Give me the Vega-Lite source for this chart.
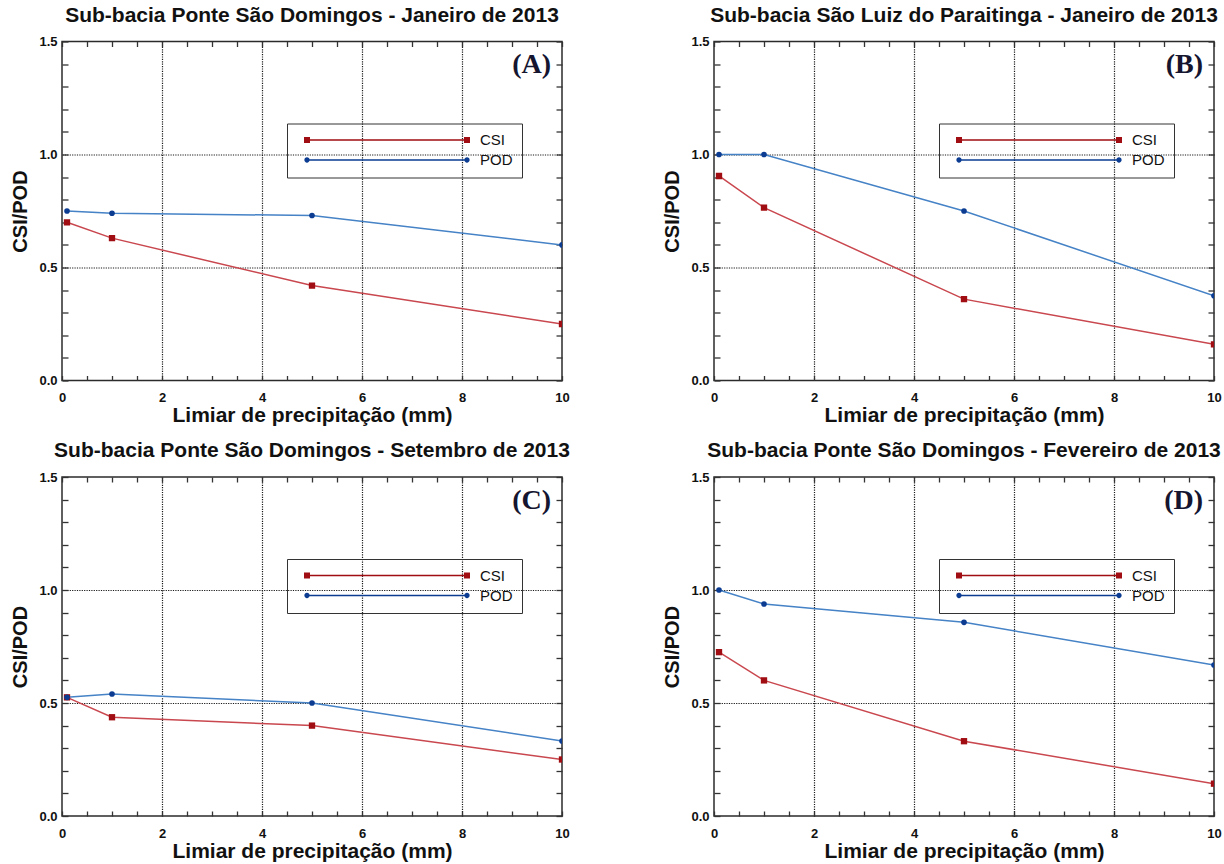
{
  "$schema": "https://vega.github.io/schema/vega-lite/v6.json",
  "background": "white",
  "padding": {"left": 10, "top": 3.5, "right": 0, "bottom": 0},
  "columns": 2,
  "spacing": {"row": 12.5, "column": 91},
  "config": {
    "font": "Liberation Sans",
    "view": {"stroke": "#2b2b2b", "strokeWidth": 1.5},
    "axis": {"labelFont": "Liberation Sans", "labelFontSize": 13, "labelFontWeight": "bold", "labelColor": "#111111", "titleFont": "Liberation Sans", "titleFontSize": 21, "titleFontWeight": "bold", "titleColor": "#111111", "tickColor": "#333333", "tickWidth": 1.3, "domain": false, "labelFlush": false, "labelOverlap": false},
    "axisLeft": {"titleFontSize": 20},
    "title": {"font": "Liberation Sans", "fontSize": 21, "fontWeight": "bold", "color": "#111111", "anchor": "middle", "frame": "group", "offset": 10}
  },
  "resolve": {
    "scale": {"color": "independent", "shape": "independent"},
    "legend": {"color": "independent", "shape": "independent"}
  },
  "datasets": {
    "A": [
      {"x": 0.1, "series": "CSI", "value": 0.70}, {"x": 1, "series": "CSI", "value": 0.63}, {"x": 5, "series": "CSI", "value": 0.42}, {"x": 10, "series": "CSI", "value": 0.25},
      {"x": 0.1, "series": "POD", "value": 0.75}, {"x": 1, "series": "POD", "value": 0.74}, {"x": 5, "series": "POD", "value": 0.73}, {"x": 10, "series": "POD", "value": 0.60}
    ],
    "B": [
      {"x": 0.1, "series": "CSI", "value": 0.905}, {"x": 1, "series": "CSI", "value": 0.765}, {"x": 5, "series": "CSI", "value": 0.36}, {"x": 10, "series": "CSI", "value": 0.16},
      {"x": 0.1, "series": "POD", "value": 1.0}, {"x": 1, "series": "POD", "value": 1.0}, {"x": 5, "series": "POD", "value": 0.75}, {"x": 10, "series": "POD", "value": 0.375}
    ],
    "C": [
      {"x": 0.1, "series": "CSI", "value": 0.525}, {"x": 1, "series": "CSI", "value": 0.437}, {"x": 5, "series": "CSI", "value": 0.40}, {"x": 10, "series": "CSI", "value": 0.25},
      {"x": 0.1, "series": "POD", "value": 0.525}, {"x": 1, "series": "POD", "value": 0.54}, {"x": 5, "series": "POD", "value": 0.50}, {"x": 10, "series": "POD", "value": 0.332}
    ],
    "D": [
      {"x": 0.1, "series": "CSI", "value": 0.725}, {"x": 1, "series": "CSI", "value": 0.60}, {"x": 5, "series": "CSI", "value": 0.331}, {"x": 10, "series": "CSI", "value": 0.143},
      {"x": 0.1, "series": "POD", "value": 1.0}, {"x": 1, "series": "POD", "value": 0.938}, {"x": 5, "series": "POD", "value": 0.857}, {"x": 10, "series": "POD", "value": 0.668}
    ]
  },
  "concat": [
    {
      "title": "Sub-bacia Ponte São Domingos - Janeiro de 2013",
      "width": 500, "height": 339,
      "data": {"name": "A"},
      "resolve": {"axis": {"x": "independent", "y": "independent"}},
      "layer": [
        {"transform": [{"filter": "datum.series === 'CSI'"}],
         "mark": {"type": "line", "strokeWidth": 1.5, "clip": true, "color": "#c9474e"},
         "encoding": {
           "x": {"field": "x", "type": "quantitative", "scale": {"domain": [0, 10], "nice": false, "zero": false},
                 "axis": {"orient": "bottom", "offset": -5, "values": [0,0.5,1,1.5,2,2.5,3,3.5,4,4.5,5,5.5,6,6.5,7,7.5,8,8.5,9,9.5,10], "labelExpr": "datum.value % 2 === 0 ? format(datum.value, 'd') : ''", "tickSize": 5, "grid": true, "gridColor": "#1a1a1a", "gridDash": [1.2, 1.2], "gridWidth": 1.2, "gridOpacity": {"condition": {"test": "datum.value % 2 === 0 && datum.value > 0 && datum.value < 10", "value": 1}, "value": 0}, "labelPadding": 11, "title": "Limiar de precipitação (mm)", "titlePadding": 0}},
           "y": {"field": "value", "type": "quantitative", "scale": {"domain": [0, 1.5], "nice": false, "zero": false},
                 "axis": {"orient": "left", "offset": -6, "values": [0,0.1,0.2,0.3,0.4,0.5,0.6,0.7,0.8,0.9,1,1.1,1.2,1.3,1.4,1.5], "labelExpr": "abs(datum.value*2 - round(datum.value*2)) < 0.001 ? format(datum.value, '.1f') : ''", "tickSize": 6, "grid": true, "gridColor": "#1a1a1a", "gridDash": [1.2, 1.2], "gridWidth": 1.2, "gridOpacity": {"condition": {"test": "abs(datum.value - 0.5) < 0.001 || abs(datum.value - 1) < 0.001", "value": 1}, "value": 0}, "labelPadding": 5, "title": "CSI/POD", "titlePadding": 8}}
         }},
        {"transform": [{"filter": "datum.series === 'POD'"}],
         "mark": {"type": "line", "strokeWidth": 1.5, "clip": true, "color": "#4582c6"},
         "encoding": {
           "x": {"field": "x", "type": "quantitative", "axis": null},
           "y": {"field": "value", "type": "quantitative", "axis": null}
         }},
        {"transform": [{"filter": "datum.series === 'CSI'"}],
         "mark": {"type": "point", "shape": "square", "filled": true, "size": 40, "opacity": 1, "color": "#a00d12", "clip": true},
         "encoding": {
           "x": {"field": "x", "type": "quantitative", "axis": {"orient": "top", "offset": -5, "values": [0,0.5,1,1.5,2,2.5,3,3.5,4,4.5,5,5.5,6,6.5,7,7.5,8,8.5,9,9.5,10], "labels": false, "title": null, "tickSize": 5, "grid": false}},
           "y": {"field": "value", "type": "quantitative", "axis": {"orient": "right", "offset": -6, "values": [0,0.1,0.2,0.3,0.4,0.5,0.6,0.7,0.8,0.9,1,1.1,1.2,1.3,1.4,1.5], "labels": false, "title": null, "tickSize": 6, "grid": false}}
         }},
        {"transform": [{"filter": "datum.series === 'POD'"}],
         "mark": {"type": "point", "shape": "circle", "filled": true, "size": 32, "opacity": 1, "color": "#0b3c92", "clip": true},
         "encoding": {
           "x": {"field": "x", "type": "quantitative", "axis": null},
           "y": {"field": "value", "type": "quantitative", "axis": null}
         }},
        {"data": {"values": []},
         "mark": {"type": "point", "filled": true, "opacity": 1, "size": 25600},
         "encoding": {
           "color": {"field": "series", "type": "nominal", "scale": {"domain": ["CSI", "POD"], "range": ["#a00d12", "#0b3c92"]},
                     "legend": {"orient": "none", "legendX": 225, "legendY": 82, "title": null, "direction": "vertical", "strokeColor": "#333333", "padding": 9, "symbolSize": 25600, "symbolStrokeWidth": 0, "symbolOffset": 11, "labelFontSize": 15, "labelFont": "Liberation Sans", "labelColor": "#111111", "labelOffset": 13, "rowPadding": 4, "clipHeight": 15, "symbolOpacity": 1}},
           "shape": {"field": "series", "type": "nominal", "scale": {"domain": ["CSI", "POD"], "range": ["M-1,-0.009H1V0.009H-1Z M-1.0375,-0.0375H-0.9625V0.0375H-1.0375Z M0.9625,-0.0375H1.0375V0.0375H0.9625Z", "M-1,-0.009H1V0.009H-1Z M-0.967,0A0.033,0.033 0 1,1 -1.033,0A0.033,0.033 0 1,1 -0.967,0Z M1.033,0A0.033,0.033 0 1,1 0.967,0A0.033,0.033 0 1,1 1.033,0Z"]},
                     "legend": {"orient": "none", "legendX": 225, "legendY": 82, "title": null, "direction": "vertical", "strokeColor": "#333333", "padding": 9, "symbolSize": 25600, "symbolStrokeWidth": 0, "symbolOffset": 11, "labelFontSize": 15, "labelFont": "Liberation Sans", "labelColor": "#111111", "labelOffset": 13, "rowPadding": 4, "clipHeight": 15, "symbolOpacity": 1}}
         }},
        {"data": {"values": [{"label": "(A)"}]},
         "mark": {"type": "text", "font": "Liberation Serif", "fontWeight": "bold", "fontSize": 28, "align": "right", "baseline": "middle", "dx": -11, "dy": 23.5, "color": "#151530"},
         "encoding": {
           "x": {"datum": 10, "type": "quantitative", "axis": null},
           "y": {"datum": 1.5, "type": "quantitative", "axis": null},
           "text": {"field": "label", "type": "nominal"}
         }}
      ]
    },
    {
      "title": "Sub-bacia São Luiz do Paraitinga - Janeiro de 2013",
      "width": 500, "height": 339,
      "data": {"name": "B"},
      "resolve": {"axis": {"x": "independent", "y": "independent"}},
      "layer": [
        {"transform": [{"filter": "datum.series === 'CSI'"}],
         "mark": {"type": "line", "strokeWidth": 1.5, "clip": true, "color": "#c9474e"},
         "encoding": {
           "x": {"field": "x", "type": "quantitative", "scale": {"domain": [0, 10], "nice": false, "zero": false},
                 "axis": {"orient": "bottom", "offset": -5, "values": [0,0.5,1,1.5,2,2.5,3,3.5,4,4.5,5,5.5,6,6.5,7,7.5,8,8.5,9,9.5,10], "labelExpr": "datum.value % 2 === 0 ? format(datum.value, 'd') : ''", "tickSize": 5, "grid": true, "gridColor": "#1a1a1a", "gridDash": [1.2, 1.2], "gridWidth": 1.2, "gridOpacity": {"condition": {"test": "datum.value % 2 === 0 && datum.value > 0 && datum.value < 10", "value": 1}, "value": 0}, "labelPadding": 11, "title": "Limiar de precipitação (mm)", "titlePadding": 0}},
           "y": {"field": "value", "type": "quantitative", "scale": {"domain": [0, 1.5], "nice": false, "zero": false},
                 "axis": {"orient": "left", "offset": -6, "values": [0,0.1,0.2,0.3,0.4,0.5,0.6,0.7,0.8,0.9,1,1.1,1.2,1.3,1.4,1.5], "labelExpr": "abs(datum.value*2 - round(datum.value*2)) < 0.001 ? format(datum.value, '.1f') : ''", "tickSize": 6, "grid": true, "gridColor": "#1a1a1a", "gridDash": [1.2, 1.2], "gridWidth": 1.2, "gridOpacity": {"condition": {"test": "abs(datum.value - 0.5) < 0.001 || abs(datum.value - 1) < 0.001", "value": 1}, "value": 0}, "labelPadding": 5, "title": "CSI/POD", "titlePadding": 8}}
         }},
        {"transform": [{"filter": "datum.series === 'POD'"}],
         "mark": {"type": "line", "strokeWidth": 1.5, "clip": true, "color": "#4582c6"},
         "encoding": {
           "x": {"field": "x", "type": "quantitative", "axis": null},
           "y": {"field": "value", "type": "quantitative", "axis": null}
         }},
        {"transform": [{"filter": "datum.series === 'CSI'"}],
         "mark": {"type": "point", "shape": "square", "filled": true, "size": 40, "opacity": 1, "color": "#a00d12", "clip": true},
         "encoding": {
           "x": {"field": "x", "type": "quantitative", "axis": {"orient": "top", "offset": -5, "values": [0,0.5,1,1.5,2,2.5,3,3.5,4,4.5,5,5.5,6,6.5,7,7.5,8,8.5,9,9.5,10], "labels": false, "title": null, "tickSize": 5, "grid": false}},
           "y": {"field": "value", "type": "quantitative", "axis": {"orient": "right", "offset": -6, "values": [0,0.1,0.2,0.3,0.4,0.5,0.6,0.7,0.8,0.9,1,1.1,1.2,1.3,1.4,1.5], "labels": false, "title": null, "tickSize": 6, "grid": false}}
         }},
        {"transform": [{"filter": "datum.series === 'POD'"}],
         "mark": {"type": "point", "shape": "circle", "filled": true, "size": 32, "opacity": 1, "color": "#0b3c92", "clip": true},
         "encoding": {
           "x": {"field": "x", "type": "quantitative", "axis": null},
           "y": {"field": "value", "type": "quantitative", "axis": null}
         }},
        {"data": {"values": []},
         "mark": {"type": "point", "filled": true, "opacity": 1, "size": 25600},
         "encoding": {
           "color": {"field": "series", "type": "nominal", "scale": {"domain": ["CSI", "POD"], "range": ["#a00d12", "#0b3c92"]},
                     "legend": {"orient": "none", "legendX": 225, "legendY": 82, "title": null, "direction": "vertical", "strokeColor": "#333333", "padding": 9, "symbolSize": 25600, "symbolStrokeWidth": 0, "symbolOffset": 11, "labelFontSize": 15, "labelFont": "Liberation Sans", "labelColor": "#111111", "labelOffset": 13, "rowPadding": 4, "clipHeight": 15, "symbolOpacity": 1}},
           "shape": {"field": "series", "type": "nominal", "scale": {"domain": ["CSI", "POD"], "range": ["M-1,-0.009H1V0.009H-1Z M-1.0375,-0.0375H-0.9625V0.0375H-1.0375Z M0.9625,-0.0375H1.0375V0.0375H0.9625Z", "M-1,-0.009H1V0.009H-1Z M-0.967,0A0.033,0.033 0 1,1 -1.033,0A0.033,0.033 0 1,1 -0.967,0Z M1.033,0A0.033,0.033 0 1,1 0.967,0A0.033,0.033 0 1,1 1.033,0Z"]},
                     "legend": {"orient": "none", "legendX": 225, "legendY": 82, "title": null, "direction": "vertical", "strokeColor": "#333333", "padding": 9, "symbolSize": 25600, "symbolStrokeWidth": 0, "symbolOffset": 11, "labelFontSize": 15, "labelFont": "Liberation Sans", "labelColor": "#111111", "labelOffset": 13, "rowPadding": 4, "clipHeight": 15, "symbolOpacity": 1}}
         }},
        {"data": {"values": [{"label": "(B)"}]},
         "mark": {"type": "text", "font": "Liberation Serif", "fontWeight": "bold", "fontSize": 28, "align": "right", "baseline": "middle", "dx": -11, "dy": 23.5, "color": "#151530"},
         "encoding": {
           "x": {"datum": 10, "type": "quantitative", "axis": null},
           "y": {"datum": 1.5, "type": "quantitative", "axis": null},
           "text": {"field": "label", "type": "nominal"}
         }}
      ]
    },
    {
      "title": "Sub-bacia Ponte São Domingos - Setembro de 2013",
      "width": 500, "height": 339,
      "data": {"name": "C"},
      "resolve": {"axis": {"x": "independent", "y": "independent"}},
      "layer": [
        {"transform": [{"filter": "datum.series === 'CSI'"}],
         "mark": {"type": "line", "strokeWidth": 1.5, "clip": true, "color": "#c9474e"},
         "encoding": {
           "x": {"field": "x", "type": "quantitative", "scale": {"domain": [0, 10], "nice": false, "zero": false},
                 "axis": {"orient": "bottom", "offset": -5, "values": [0,0.5,1,1.5,2,2.5,3,3.5,4,4.5,5,5.5,6,6.5,7,7.5,8,8.5,9,9.5,10], "labelExpr": "datum.value % 2 === 0 ? format(datum.value, 'd') : ''", "tickSize": 5, "grid": true, "gridColor": "#1a1a1a", "gridDash": [1.2, 1.2], "gridWidth": 1.2, "gridOpacity": {"condition": {"test": "datum.value % 2 === 0 && datum.value > 0 && datum.value < 10", "value": 1}, "value": 0}, "labelPadding": 11, "title": "Limiar de precipitação (mm)", "titlePadding": 0}},
           "y": {"field": "value", "type": "quantitative", "scale": {"domain": [0, 1.5], "nice": false, "zero": false},
                 "axis": {"orient": "left", "offset": -6, "values": [0,0.1,0.2,0.3,0.4,0.5,0.6,0.7,0.8,0.9,1,1.1,1.2,1.3,1.4,1.5], "labelExpr": "abs(datum.value*2 - round(datum.value*2)) < 0.001 ? format(datum.value, '.1f') : ''", "tickSize": 6, "grid": true, "gridColor": "#1a1a1a", "gridDash": [1.2, 1.2], "gridWidth": 1.2, "gridOpacity": {"condition": {"test": "abs(datum.value - 0.5) < 0.001 || abs(datum.value - 1) < 0.001", "value": 1}, "value": 0}, "labelPadding": 5, "title": "CSI/POD", "titlePadding": 8}}
         }},
        {"transform": [{"filter": "datum.series === 'POD'"}],
         "mark": {"type": "line", "strokeWidth": 1.5, "clip": true, "color": "#4582c6"},
         "encoding": {
           "x": {"field": "x", "type": "quantitative", "axis": null},
           "y": {"field": "value", "type": "quantitative", "axis": null}
         }},
        {"transform": [{"filter": "datum.series === 'CSI'"}],
         "mark": {"type": "point", "shape": "square", "filled": true, "size": 40, "opacity": 1, "color": "#a00d12", "clip": true},
         "encoding": {
           "x": {"field": "x", "type": "quantitative", "axis": {"orient": "top", "offset": -5, "values": [0,0.5,1,1.5,2,2.5,3,3.5,4,4.5,5,5.5,6,6.5,7,7.5,8,8.5,9,9.5,10], "labels": false, "title": null, "tickSize": 5, "grid": false}},
           "y": {"field": "value", "type": "quantitative", "axis": {"orient": "right", "offset": -6, "values": [0,0.1,0.2,0.3,0.4,0.5,0.6,0.7,0.8,0.9,1,1.1,1.2,1.3,1.4,1.5], "labels": false, "title": null, "tickSize": 6, "grid": false}}
         }},
        {"transform": [{"filter": "datum.series === 'POD'"}],
         "mark": {"type": "point", "shape": "circle", "filled": true, "size": 32, "opacity": 1, "color": "#0b3c92", "clip": true},
         "encoding": {
           "x": {"field": "x", "type": "quantitative", "axis": null},
           "y": {"field": "value", "type": "quantitative", "axis": null}
         }},
        {"data": {"values": []},
         "mark": {"type": "point", "filled": true, "opacity": 1, "size": 25600},
         "encoding": {
           "color": {"field": "series", "type": "nominal", "scale": {"domain": ["CSI", "POD"], "range": ["#a00d12", "#0b3c92"]},
                     "legend": {"orient": "none", "legendX": 225, "legendY": 82, "title": null, "direction": "vertical", "strokeColor": "#333333", "padding": 9, "symbolSize": 25600, "symbolStrokeWidth": 0, "symbolOffset": 11, "labelFontSize": 15, "labelFont": "Liberation Sans", "labelColor": "#111111", "labelOffset": 13, "rowPadding": 4, "clipHeight": 15, "symbolOpacity": 1}},
           "shape": {"field": "series", "type": "nominal", "scale": {"domain": ["CSI", "POD"], "range": ["M-1,-0.009H1V0.009H-1Z M-1.0375,-0.0375H-0.9625V0.0375H-1.0375Z M0.9625,-0.0375H1.0375V0.0375H0.9625Z", "M-1,-0.009H1V0.009H-1Z M-0.967,0A0.033,0.033 0 1,1 -1.033,0A0.033,0.033 0 1,1 -0.967,0Z M1.033,0A0.033,0.033 0 1,1 0.967,0A0.033,0.033 0 1,1 1.033,0Z"]},
                     "legend": {"orient": "none", "legendX": 225, "legendY": 82, "title": null, "direction": "vertical", "strokeColor": "#333333", "padding": 9, "symbolSize": 25600, "symbolStrokeWidth": 0, "symbolOffset": 11, "labelFontSize": 15, "labelFont": "Liberation Sans", "labelColor": "#111111", "labelOffset": 13, "rowPadding": 4, "clipHeight": 15, "symbolOpacity": 1}}
         }},
        {"data": {"values": [{"label": "(C)"}]},
         "mark": {"type": "text", "font": "Liberation Serif", "fontWeight": "bold", "fontSize": 28, "align": "right", "baseline": "middle", "dx": -11, "dy": 23.5, "color": "#151530"},
         "encoding": {
           "x": {"datum": 10, "type": "quantitative", "axis": null},
           "y": {"datum": 1.5, "type": "quantitative", "axis": null},
           "text": {"field": "label", "type": "nominal"}
         }}
      ]
    },
    {
      "title": "Sub-bacia Ponte São Domingos - Fevereiro de 2013",
      "width": 500, "height": 339,
      "data": {"name": "D"},
      "resolve": {"axis": {"x": "independent", "y": "independent"}},
      "layer": [
        {"transform": [{"filter": "datum.series === 'CSI'"}],
         "mark": {"type": "line", "strokeWidth": 1.5, "clip": true, "color": "#c9474e"},
         "encoding": {
           "x": {"field": "x", "type": "quantitative", "scale": {"domain": [0, 10], "nice": false, "zero": false},
                 "axis": {"orient": "bottom", "offset": -5, "values": [0,0.5,1,1.5,2,2.5,3,3.5,4,4.5,5,5.5,6,6.5,7,7.5,8,8.5,9,9.5,10], "labelExpr": "datum.value % 2 === 0 ? format(datum.value, 'd') : ''", "tickSize": 5, "grid": true, "gridColor": "#1a1a1a", "gridDash": [1.2, 1.2], "gridWidth": 1.2, "gridOpacity": {"condition": {"test": "datum.value % 2 === 0 && datum.value > 0 && datum.value < 10", "value": 1}, "value": 0}, "labelPadding": 11, "title": "Limiar de precipitação (mm)", "titlePadding": 0}},
           "y": {"field": "value", "type": "quantitative", "scale": {"domain": [0, 1.5], "nice": false, "zero": false},
                 "axis": {"orient": "left", "offset": -6, "values": [0,0.1,0.2,0.3,0.4,0.5,0.6,0.7,0.8,0.9,1,1.1,1.2,1.3,1.4,1.5], "labelExpr": "abs(datum.value*2 - round(datum.value*2)) < 0.001 ? format(datum.value, '.1f') : ''", "tickSize": 6, "grid": true, "gridColor": "#1a1a1a", "gridDash": [1.2, 1.2], "gridWidth": 1.2, "gridOpacity": {"condition": {"test": "abs(datum.value - 0.5) < 0.001 || abs(datum.value - 1) < 0.001", "value": 1}, "value": 0}, "labelPadding": 5, "title": "CSI/POD", "titlePadding": 8}}
         }},
        {"transform": [{"filter": "datum.series === 'POD'"}],
         "mark": {"type": "line", "strokeWidth": 1.5, "clip": true, "color": "#4582c6"},
         "encoding": {
           "x": {"field": "x", "type": "quantitative", "axis": null},
           "y": {"field": "value", "type": "quantitative", "axis": null}
         }},
        {"transform": [{"filter": "datum.series === 'CSI'"}],
         "mark": {"type": "point", "shape": "square", "filled": true, "size": 40, "opacity": 1, "color": "#a00d12", "clip": true},
         "encoding": {
           "x": {"field": "x", "type": "quantitative", "axis": {"orient": "top", "offset": -5, "values": [0,0.5,1,1.5,2,2.5,3,3.5,4,4.5,5,5.5,6,6.5,7,7.5,8,8.5,9,9.5,10], "labels": false, "title": null, "tickSize": 5, "grid": false}},
           "y": {"field": "value", "type": "quantitative", "axis": {"orient": "right", "offset": -6, "values": [0,0.1,0.2,0.3,0.4,0.5,0.6,0.7,0.8,0.9,1,1.1,1.2,1.3,1.4,1.5], "labels": false, "title": null, "tickSize": 6, "grid": false}}
         }},
        {"transform": [{"filter": "datum.series === 'POD'"}],
         "mark": {"type": "point", "shape": "circle", "filled": true, "size": 32, "opacity": 1, "color": "#0b3c92", "clip": true},
         "encoding": {
           "x": {"field": "x", "type": "quantitative", "axis": null},
           "y": {"field": "value", "type": "quantitative", "axis": null}
         }},
        {"data": {"values": []},
         "mark": {"type": "point", "filled": true, "opacity": 1, "size": 25600},
         "encoding": {
           "color": {"field": "series", "type": "nominal", "scale": {"domain": ["CSI", "POD"], "range": ["#a00d12", "#0b3c92"]},
                     "legend": {"orient": "none", "legendX": 225, "legendY": 82, "title": null, "direction": "vertical", "strokeColor": "#333333", "padding": 9, "symbolSize": 25600, "symbolStrokeWidth": 0, "symbolOffset": 11, "labelFontSize": 15, "labelFont": "Liberation Sans", "labelColor": "#111111", "labelOffset": 13, "rowPadding": 4, "clipHeight": 15, "symbolOpacity": 1}},
           "shape": {"field": "series", "type": "nominal", "scale": {"domain": ["CSI", "POD"], "range": ["M-1,-0.009H1V0.009H-1Z M-1.0375,-0.0375H-0.9625V0.0375H-1.0375Z M0.9625,-0.0375H1.0375V0.0375H0.9625Z", "M-1,-0.009H1V0.009H-1Z M-0.967,0A0.033,0.033 0 1,1 -1.033,0A0.033,0.033 0 1,1 -0.967,0Z M1.033,0A0.033,0.033 0 1,1 0.967,0A0.033,0.033 0 1,1 1.033,0Z"]},
                     "legend": {"orient": "none", "legendX": 225, "legendY": 82, "title": null, "direction": "vertical", "strokeColor": "#333333", "padding": 9, "symbolSize": 25600, "symbolStrokeWidth": 0, "symbolOffset": 11, "labelFontSize": 15, "labelFont": "Liberation Sans", "labelColor": "#111111", "labelOffset": 13, "rowPadding": 4, "clipHeight": 15, "symbolOpacity": 1}}
         }},
        {"data": {"values": [{"label": "(D)"}]},
         "mark": {"type": "text", "font": "Liberation Serif", "fontWeight": "bold", "fontSize": 28, "align": "right", "baseline": "middle", "dx": -11, "dy": 23.5, "color": "#151530"},
         "encoding": {
           "x": {"datum": 10, "type": "quantitative", "axis": null},
           "y": {"datum": 1.5, "type": "quantitative", "axis": null},
           "text": {"field": "label", "type": "nominal"}
         }}
      ]
    }
  ]
}
